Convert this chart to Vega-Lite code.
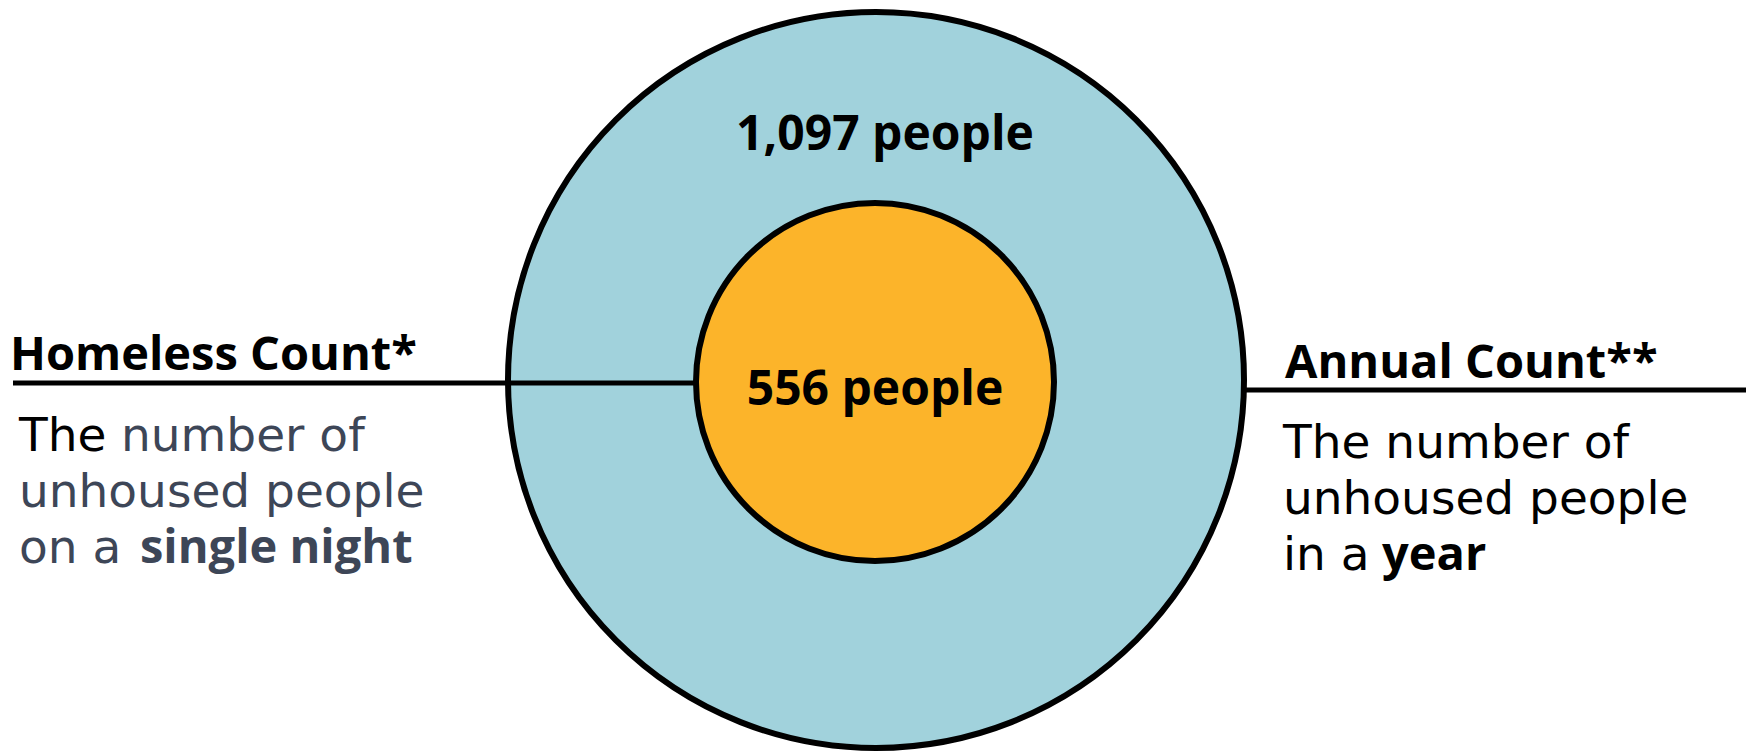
{
  "$schema": "https://vega.github.io/schema/vega-lite/v6.json",
  "width": 1753,
  "height": 751,
  "autosize": {"type": "fit", "contains": "padding"},
  "padding": 0,
  "background": "white",
  "config": {"view": {"stroke": null}},
  "datasets": {
    "counts": [
      {"ring": "Annual Count", "count": 1097, "label": "1,097 people"},
      {"ring": "Homeless Count", "count": 556, "label": "556 people"}
    ],
    "leaders": [
      {"ring": "Homeless Count", "from": "title", "to": "circle"},
      {"ring": "Annual Count", "from": "circle", "to": "edge"}
    ],
    "titles": [
      {"ring": "Homeless Count", "title": "Homeless Count*"},
      {"ring": "Annual Count", "title": "Annual Count**"}
    ],
    "body": [
      {"ring": "Homeless Count", "line": 1, "segment": "first", "part": "lead", "text": "The"},
      {"ring": "Homeless Count", "line": 1, "segment": "second", "part": "rest", "text": "number of"},
      {"ring": "Homeless Count", "line": 2, "segment": "first", "part": "rest", "text": "unhoused people"},
      {"ring": "Homeless Count", "line": 3, "segment": "first", "part": "rest", "text": "on a"},
      {"ring": "Annual Count", "line": 1, "segment": "first", "part": "lead", "text": "The number of"},
      {"ring": "Annual Count", "line": 2, "segment": "first", "part": "lead", "text": "unhoused people"},
      {"ring": "Annual Count", "line": 3, "segment": "first", "part": "lead", "text": "in a"}
    ],
    "emphasis": [
      {"ring": "Homeless Count", "text": "single night"},
      {"ring": "Annual Count", "text": "year"}
    ]
  },
  "layer": [
    {
      "data": {"name": "counts"},
      "mark": {"type": "point", "shape": "circle", "filled": true, "opacity": 1, "stroke": "#000000", "strokeWidth": 6},
      "encoding": {
        "x": {"field": "ring", "type": "nominal", "axis": null, "scale": {"type": "point", "domain": ["Annual Count", "Homeless Count"], "range": [876, 875], "padding": 0}},
        "y": {"field": "ring", "type": "nominal", "axis": null, "scale": {"type": "point", "domain": ["Annual Count", "Homeless Count"], "range": [377, 379], "padding": 0}},
        "size": {"field": "count", "type": "quantitative", "legend": null, "scale": {"type": "linear", "zero": false, "domain": [556, 1097], "range": [128164, 541696]}},
        "color": {"field": "ring", "type": "nominal", "legend": null, "scale": {"domain": ["Annual Count", "Homeless Count"], "range": ["#a1d2dc", "#fcb42a"]}}
      }
    },
    {
      "data": {"name": "leaders"},
      "transform": [{"filter": "datum.ring === 'Homeless Count'"}],
      "mark": {"type": "rule", "color": "#000000", "strokeWidth": 5},
      "encoding": {
        "x": {"field": "from", "type": "nominal", "axis": null, "scale": {"type": "point", "domain": ["title", "circle"], "range": [13, 697], "padding": 0}},
        "x2": {"field": "to"},
        "y": {"field": "ring", "type": "nominal", "axis": null, "scale": {"type": "point", "domain": ["Homeless Count"], "range": [380, 380], "padding": 0}}
      }
    },
    {
      "data": {"name": "leaders"},
      "transform": [{"filter": "datum.ring === 'Annual Count'"}],
      "mark": {"type": "rule", "color": "#000000", "strokeWidth": 5},
      "encoding": {
        "x": {"field": "from", "type": "nominal", "axis": null, "scale": {"type": "point", "domain": ["circle", "edge"], "range": [1245, 1746], "padding": 0}},
        "x2": {"field": "to"},
        "y": {"field": "ring", "type": "nominal", "axis": null, "scale": {"type": "point", "domain": ["Annual Count"], "range": [387, 387], "padding": 0}}
      }
    },
    {
      "data": {"name": "counts"},
      "mark": {"type": "text", "font": "Open Sans", "fontWeight": "bold", "fontSize": 48, "align": "center", "baseline": "alphabetic", "color": "#000000"},
      "encoding": {
        "text": {"field": "label"},
        "x": {"field": "ring", "type": "nominal", "axis": null, "scale": {"type": "point", "domain": ["Annual Count", "Homeless Count"], "range": [885, 875], "padding": 0}},
        "y": {"field": "ring", "type": "nominal", "axis": null, "scale": {"type": "point", "domain": ["Annual Count", "Homeless Count"], "range": [147, 402], "padding": 0}}
      }
    },
    {
      "data": {"name": "titles"},
      "mark": {"type": "text", "font": "Open Sans", "fontWeight": "bold", "fontSize": 47, "align": "left", "baseline": "alphabetic", "color": "#000000"},
      "encoding": {
        "text": {"field": "title"},
        "x": {"field": "ring", "type": "nominal", "axis": null, "scale": {"type": "point", "domain": ["Homeless Count", "Annual Count"], "range": [10, 1285], "padding": 0}},
        "y": {"field": "ring", "type": "nominal", "axis": null, "scale": {"type": "point", "domain": ["Homeless Count", "Annual Count"], "range": [367, 375], "padding": 0}}
      }
    },
    {
      "data": {"name": "body"},
      "transform": [{"filter": "datum.ring === 'Homeless Count'"}],
      "mark": {"type": "text", "font": "DejaVu Sans", "fontSize": 47, "align": "left", "baseline": "alphabetic"},
      "encoding": {
        "text": {"field": "text"},
        "x": {"field": "segment", "type": "nominal", "axis": null, "scale": {"type": "point", "domain": ["first", "second"], "range": [19, 121], "padding": 0}},
        "y": {"field": "line", "type": "ordinal", "axis": null, "scale": {"type": "point", "domain": [1, 2, 3], "range": [448, 560], "padding": 0}},
        "color": {"field": "part", "type": "nominal", "legend": null, "scale": {"domain": ["lead", "rest"], "range": ["#000000", "#3d4657"]}}
      }
    },
    {
      "data": {"name": "body"},
      "transform": [{"filter": "datum.ring === 'Annual Count'"}],
      "mark": {"type": "text", "font": "DejaVu Sans", "fontSize": 47, "align": "left", "baseline": "alphabetic", "color": "#000000"},
      "encoding": {
        "text": {"field": "text"},
        "x": {"field": "segment", "type": "nominal", "axis": null, "scale": {"type": "point", "domain": ["first"], "range": [1283, 1283], "padding": 0}},
        "y": {"field": "line", "type": "ordinal", "axis": null, "scale": {"type": "point", "domain": [1, 2, 3], "range": [455, 567], "padding": 0}}
      }
    },
    {
      "data": {"name": "emphasis"},
      "mark": {"type": "text", "font": "Open Sans", "fontWeight": "bold", "fontSize": 47, "align": "left", "baseline": "alphabetic"},
      "encoding": {
        "text": {"field": "text"},
        "x": {"field": "ring", "type": "nominal", "axis": null, "scale": {"type": "point", "domain": ["Homeless Count", "Annual Count"], "range": [140, 1382], "padding": 0}},
        "y": {"field": "ring", "type": "nominal", "axis": null, "scale": {"type": "point", "domain": ["Homeless Count", "Annual Count"], "range": [560, 567], "padding": 0}},
        "color": {"field": "ring", "type": "nominal", "legend": null, "scale": {"domain": ["Homeless Count", "Annual Count"], "range": ["#3d4657", "#000000"]}}
      }
    }
  ],
  "resolve": {"scale": {"x": "independent", "y": "independent", "color": "independent", "size": "independent"}}
}
